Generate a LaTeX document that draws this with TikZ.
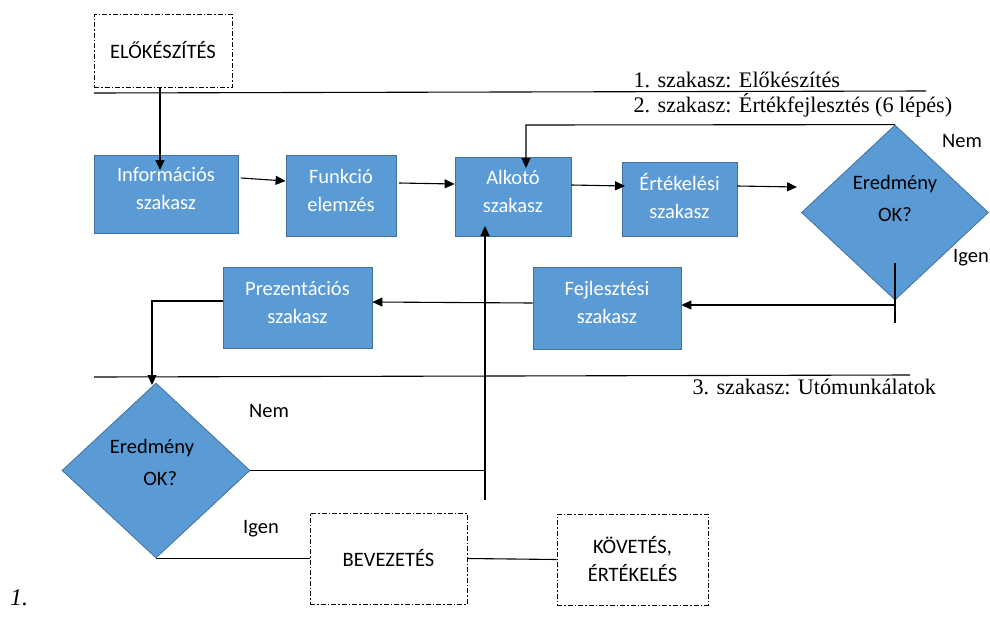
\documentclass[tikz,border=0pt]{standalone}
\usepackage{fontspec}
\setmainfont{Liberation Serif}
\newfontfamily\boxfont{Carlito}
\usetikzlibrary{shapes.geometric,arrows.meta}
\definecolor{boxblue}{HTML}{5B9BD5}
\definecolor{boxedge}{HTML}{41719C}
\begin{document}
\begin{tikzpicture}[x=1pt,y=-1pt,
  bluebox/.style={draw=boxedge,line width=0.8pt,fill=boxblue,text=white,font=\boxfont\fontsize{20.5}{28}\selectfont,align=center,inner sep=0pt,text depth=11pt},
  dashbox/.style={draw=black,line width=1pt,dash pattern=on 5pt off 2pt on 1.5pt off 2pt,font=\boxfont\fontsize{20.5}{28}\selectfont,align=center,inner sep=0pt},
  decision/.style={diamond,draw=boxedge,line width=0.8pt,fill=boxblue,inner sep=0pt},
  dtext/.style={font=\boxfont\fontsize{20.5}{32}\selectfont,align=center},
  lbl/.style={font=\boxfont\fontsize{20.5}{24}\selectfont,anchor=base},
  sect/.style={font=\fontsize{22.2}{26}\selectfont,anchor=base west},
  conn/.style={line width=1.1pt},
  arr/.style={conn,-{Triangle[length=10pt,width=9pt]}}
]
\useasboundingbox (0,0) rectangle (990,616);

% section lines and labels
\coordinate (s1a) at (94,93);
\coordinate (s1b) at (926,91);
\coordinate (s3a) at (94,377);
\coordinate (s3b) at (910,375);
\draw[conn] (s1a) -- (s1b);
\draw[conn] (s3a) -- (s3b);
\node[sect] (t1) at (630,87) {1. szakasz: Előkészítés};
\node[sect] (t2) at (630,112) {2. szakasz: Értékfejlesztés (6 lépés)};
\node[sect] (t3) at (689,394) {3. szakasz: Utómunkálatok};

% boxes
\node[dashbox,minimum width=138pt,minimum height=73pt] (elo) at (163,50.5) {ELŐKÉSZÍTÉS};
\node[bluebox,minimum width=144pt,minimum height=78pt] (info) at (166,194) {Információs\\szakasz};
\node[bluebox,minimum width=110pt,minimum height=81pt] (funk) at (341,195.5) {Funkció\\elemzés};
\node[bluebox,minimum width=116pt,minimum height=79pt] (alk) at (513,196.5) {Alkotó\\szakasz};
\node[bluebox,minimum width=115pt,minimum height=74pt,text depth=6pt] (ert) at (679.5,199) {Értékelési\\szakasz};
\node[bluebox,minimum width=148pt,minimum height=82pt] (fejl) at (607,308) {Fejlesztési\\szakasz};
\node[bluebox,minimum width=149pt,minimum height=81pt] (prez) at (297.5,307.5) {Prezentációs\\szakasz};
\node[dashbox,minimum width=157pt,minimum height=91pt] (bev) at (388.5,558.5) {BEVEZETÉS};
\node[dashbox,minimum width=151pt,minimum height=91pt] (kov) at (632.5,559.5) {KÖVETÉS,\\ÉRTÉKELÉS};

% decisions
\node[decision,minimum width=187pt,minimum height=175pt] (d1) at (895,212.5) {};
\node[dtext] (d1t) at (895,198) {Eredmény\\OK?};
\node[decision,minimum width=188pt,minimum height=175pt] (d2) at (156,470.5) {};
\node[dtext] (d2t) at (152,462) {Eredmény\\\hspace*{0.8em}OK?};

% labels
\node[lbl] (n1) at (962,147) {Nem};
\node[lbl] (i1) at (971,262) {Igen};
\node[lbl] (n2) at (269,417) {Nem};
\node[lbl] (i2) at (261,533) {Igen};

% connectors
\coordinate (e1) at (160,170);
\draw[arr] (elo.south -| e1) -- (e1);
\draw[arr] (241,178) -- (funk.west |- 0,181);
\draw[arr] (399,183) -- (alk.west |- 0,184);
\draw[arr] (alk.east |- 0,185) -- (625,186);
\coordinate (d1in) at (797,187);
\draw[arr] (ert.east |- 0,186) -- (d1in);

\coordinate (fb) at (526,125);
\coordinate (fbend) at (526,168);
\draw[arr] (d1.north) -- (fb) -- (fbend);

\coordinate (v1t) at (895,263);
\coordinate (v1b) at (895,323);
\coordinate (v1m) at (895,305);
\draw[conn] (v1t) -- (v1b);
\draw[arr] (v1m) -- (fejl.east |- v1m);
\draw[arr] (fejl.west |- 0,303) -- (prez.east |- 0,302);

\coordinate (pz) at (152,301);
\coordinate (d2in) at (152,385);
\draw[arr] (prez.west |- pz) -- (pz) -- (d2in);

\coordinate (vb) at (485,500);
\coordinate (vt) at (485,226);
\draw[conn] (d2.east) -- (d2.east -| vb);
\draw[arr] (vb) -- (vt);

\draw[conn] (d2.south) -- (d2.south -| bev.west);
\draw[conn] (bev.east) -- (kov.west);

\node[font=\itshape\fontsize{24}{26}\selectfont,anchor=base west,inner sep=0pt] (fig) at (10,605) {1.};
\end{tikzpicture}
\end{document}
